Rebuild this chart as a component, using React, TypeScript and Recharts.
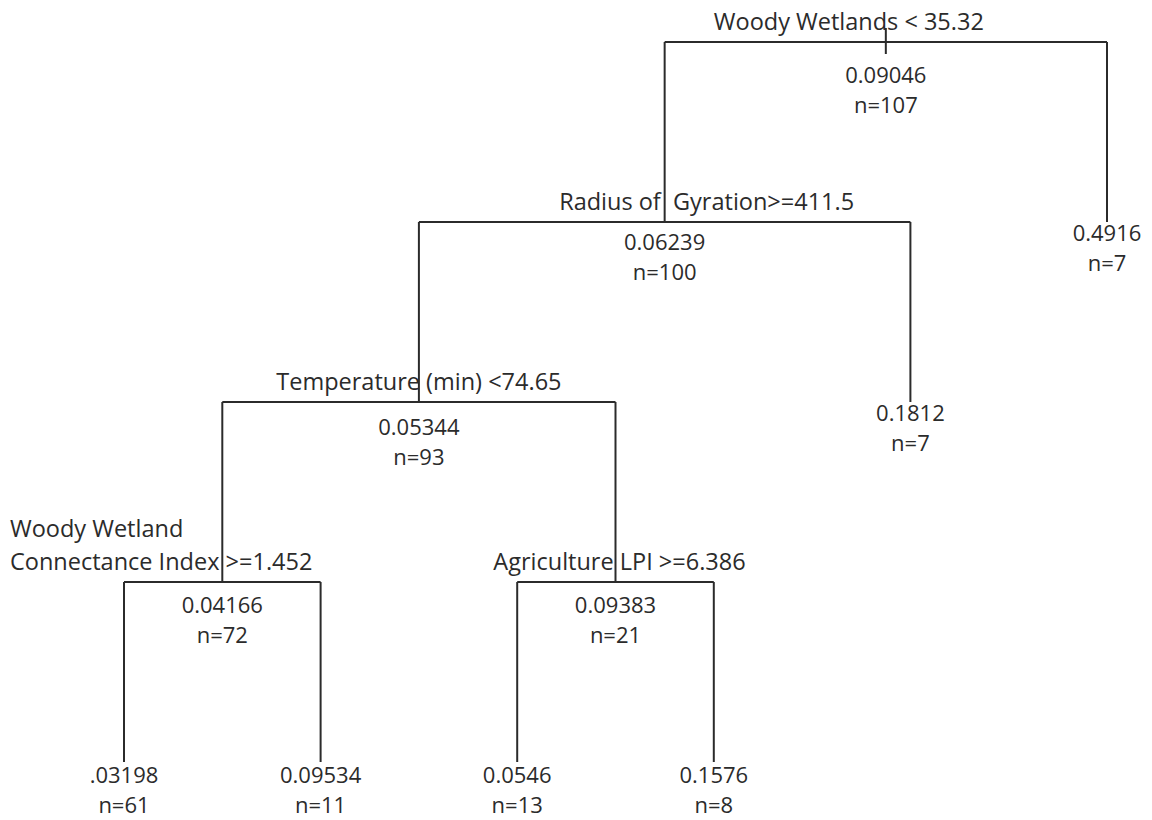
import { ScatterChart, Scatter, XAxis, YAxis, ReferenceLine } from 'recharts';

// leaves, left to right
const leafMeans = ['.03198', '0.09534', '0.0546', '0.1576', '0.1812', '0.4916'];
const leafCounts = [61, 11, 13, 8, 7, 7];
const leafDepth = [4, 4, 4, 4, 2, 1];

// internal splits
const splitRules = [
  'Woody Wetlands < 35.32',
  'Radius of  Gyration>=411.5',
  'Temperature (min) <74.65',
  'Woody Wetland|Connectance Index >=1.452',
  'Agriculture LPI >=6.386',
];
const splitMeans = ['0.09046', '0.06239', '0.05344', '0.04166', '0.09383'];
const splitCounts = [107, 100, 93, 72, 21];
const splitDepth = [0, 1, 2, 3, 3];
const splitChildren = [['S1', 'L5'], ['S2', 'L4'], ['S3', 'S4'], ['L0', 'L1'], ['L2', 'L3']];

const INK = '#2b2b2b';
const FONT = '"Open Sans", sans-serif';
// per-split label nudges (px)
const labelShift = [-37, 42, 0, 0, 4];
const valueDy = [32, 19, 24, 22, 22];
const LINE_GAP = 30;

const nodeX = (ref: string): number => {
  const i = Number(ref.slice(1));
  if (ref[0] === 'L') return i + 1;
  const [a, b] = splitChildren[i];
  return (nodeX(a) + nodeX(b)) / 2;
};
const nodeDepth = (ref: string): number => {
  const i = Number(ref.slice(1));
  return ref[0] === 'L' ? leafDepth[i] : splitDepth[i];
};

const leafData = leafMeans.map((m, i) => ({ x: i + 1, y: leafDepth[i], mean: m, n: leafCounts[i] }));
const splitData = splitRules.map((r, i) => ({
  x: nodeX('S' + i), y: splitDepth[i], rule: r, mean: splitMeans[i], n: splitCounts[i], idx: i,
}));

const segments: { x: number; y: number }[][] = [];
splitChildren.forEach(([a, b], i) => {
  const d = splitDepth[i];
  segments.push([{ x: nodeX(a), y: d }, { x: nodeX(b), y: d }]);
  segments.push([{ x: nodeX(a), y: d }, { x: nodeX(a), y: nodeDepth(a) }]);
  segments.push([{ x: nodeX(b), y: d }, { x: nodeX(b), y: nodeDepth(b) }]);
});

const num = { fontFamily: FONT, fontSize: 22, fill: INK, dominantBaseline: 'central' as const };
const lab = { ...num, fontSize: 23.5 };

const Stat = ({ x, y, mean, n }: any) => (
  <g>
    <text x={x} y={y} textAnchor="middle" {...num}>{mean}</text>
    <text x={x} y={y + LINE_GAP} textAnchor="middle" {...num}>{'n=' + n}</text>
  </g>
);

const SplitNode = (props: any) => {
  const { cx, cy, payload } = props;
  const i = payload.idx;
  const lines = payload.rule.split('|');
  return (
    <g>
      {i === 0 && <line x1={cx} x2={cx} y1={cy - 14} y2={cy + 12} stroke={INK} strokeWidth={2} />}
      {lines.length > 1 ? (
        <>
          <text x={10} y={cy - 54} textAnchor="start" {...lab}>{lines[0]}</text>
          <text x={10} y={cy - 21} textAnchor="start" {...lab}>{lines[1]}</text>
        </>
      ) : (
        <text x={cx + labelShift[i]} y={cy - 21} textAnchor="middle" xmlSpace="preserve"
          style={{ whiteSpace: 'pre' }} {...lab}>{lines[0]}</text>
      )}
      <Stat x={cx} y={cy + valueDy[i]} mean={payload.mean} n={payload.n} />
    </g>
  );
};

const LeafNode = (props: any) => {
  const { cx, cy, payload } = props;
  return <Stat x={cx} y={cy + (payload.y === 4 ? 12 : 10)} mean={payload.mean} n={payload.n} />;
};

export default function App() {
  return (
    <div style={{ position: 'absolute', left: 0, top: 0, background: '#fff' }}>
      <ScatterChart width={1152} height={820} margin={{ top: 42, right: 45, bottom: 58, left: 124 }}>
        <XAxis type="number" dataKey="x" domain={[1, 6]} hide />
        <YAxis type="number" dataKey="y" domain={[0, 4]} reversed hide />
        {segments.map((s, k) => (
          <ReferenceLine key={k} segment={s} stroke={INK} strokeWidth={2} ifOverflow="visible" />
        ))}
        <Scatter data={splitData} shape={SplitNode} isAnimationActive={false} />
        <Scatter data={leafData} shape={LeafNode} isAnimationActive={false} />
      </ScatterChart>
    </div>
  );
}
